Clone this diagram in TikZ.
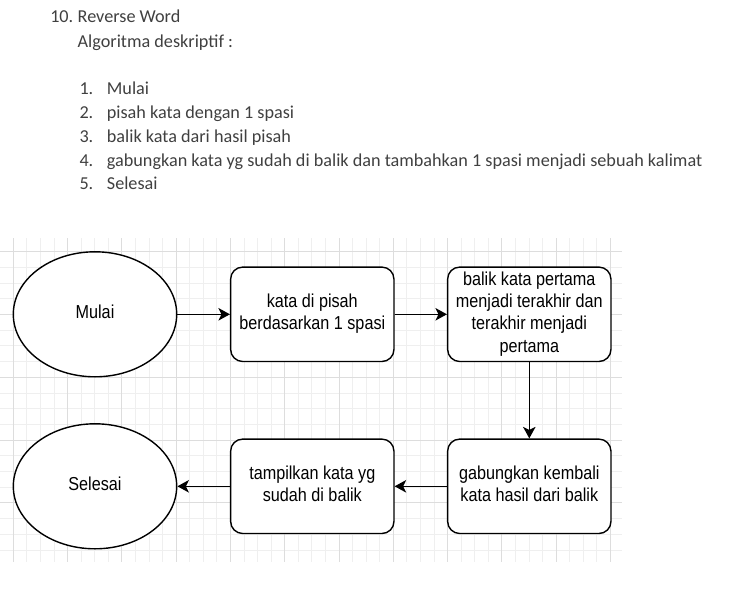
\documentclass[tikz,border=0pt]{standalone}
\usepackage{fontspec}
\usepackage{graphicx}
\setmainfont{Liberation Sans}
\newfontfamily\docfont{Carlito}
\usetikzlibrary{shapes.geometric,arrows.meta}
\definecolor{doctext}{HTML}{404040}
\definecolor{minorg}{HTML}{EFEFEF}
\definecolor{majorg}{HTML}{DDDDDD}
\newcommand\dlab[1]{\scalebox{1}[1.157]{\begin{tabular}{@{}c@{}}#1\end{tabular}}}
\tikzset{
  minorgrid/.style={draw=minorg, line width=0.9pt},
  majorgrid/.style={draw=majorg, line width=0.9pt},
  doc/.style={anchor=base west, inner sep=0pt, text=doctext, font=\docfont\fontsize{18.2}{23.7}\selectfont},
  term/.style={ellipse, draw, fill=white, line width=1.4pt, minimum width=163.4pt, minimum height=125pt, inner sep=0pt, font=\fontsize{16.2}{19.3}\selectfont},
  stepbox/.style={rectangle, rounded corners=12pt, draw, fill=white, line width=1.4pt, minimum width=163.3pt, minimum height=94.4pt, inner sep=0pt, font=\fontsize{16.2}{19.3}\selectfont},
  arr/.style={line width=1.4pt, -{Stealth[length=11.5pt, width=12.5pt, inset=3pt]}}
}
\begin{document}
\begin{tikzpicture}[x=1pt, y=-1pt]
\useasboundingbox (0,0) rectangle (730,591);
% grid
\foreach \k in {0,...,44}{
  \pgfmathsetmacro\xx{13.3+13.57*\k}
  \draw[minorgrid] (\xx,238) -- (\xx,562);
}
\foreach \j in {0,...,19}{
  \pgfmathsetmacro\yy{251.7+15.7*\j}
  \draw[minorgrid] (0,\yy) -- (621.7,\yy);
}
\foreach \k in {0,4,...,44}{
  \pgfmathsetmacro\xx{13.3+13.57*\k}
  \draw[majorgrid] (\xx,238) -- (\xx,562);
}
\foreach \j in {0,4,...,19}{
  \pgfmathsetmacro\yy{251.7+15.7*\j}
  \draw[majorgrid] (0,\yy) -- (621.7,\yy);
}
% document text
\node[doc, anchor=base east] (n10) at (73.5,22.5) {10.};
\node[doc] (title) at (77.5,22.5) {Reverse Word};
\node[doc] (sub) at (77.5,48) {Algoritma deskriptif :};
\node[doc] (i1n) at (79.3,95) {1.};
\node[doc] (i1) at (106.7,95) {Mulai};
\node[doc] (i2n) at (79.3,118.7) {2.};
\node[doc] (i2) at (106.7,118.7) {pisah kata dengan 1 spasi};
\node[doc] (i3n) at (79.3,142.4) {3.};
\node[doc] (i3) at (106.7,142.4) {balik kata dari hasil pisah};
\node[doc] (i4n) at (79.3,166.1) {4.};
\node[doc] (i4) at (106.7,166.1) {gabungkan kata yg sudah di balik dan tambahkan 1 spasi menjadi sebuah kalimat};
\node[doc] (i5n) at (79.3,189.8) {5.};
\node[doc] (i5) at (106.7,189.8) {Selesai};
% diagram
\node[term] (mulai) at (95,314.3) {\dlab{Mulai}};
\node[term] (selesai) at (95,486.3) {\dlab{Selesai}};
\node[stepbox] (b1) at (312.3,314.3) {\dlab{kata di pisah\\berdasarkan 1 spasi}};
\node[stepbox] (b2) at (529.3,314.3) {\dlab{balik kata pertama\\menjadi terakhir dan\\terakhir menjadi\\pertama}};
\node[stepbox] (b3) at (312.3,486.3) {\dlab{tampilkan kata yg\\sudah di balik}};
\node[stepbox] (b4) at (529.3,486.3) {\dlab{gabungkan kembali\\kata hasil dari balik}};
\draw[arr] (mulai.east) -- (b1.west);
\draw[arr] (b1.east) -- (b2.west);
\draw[arr] (b2.south) -- (b4.north);
\draw[arr] (b4.west) -- (b3.east);
\draw[arr] (b3.west) -- (selesai.east);
\end{tikzpicture}
\end{document}
